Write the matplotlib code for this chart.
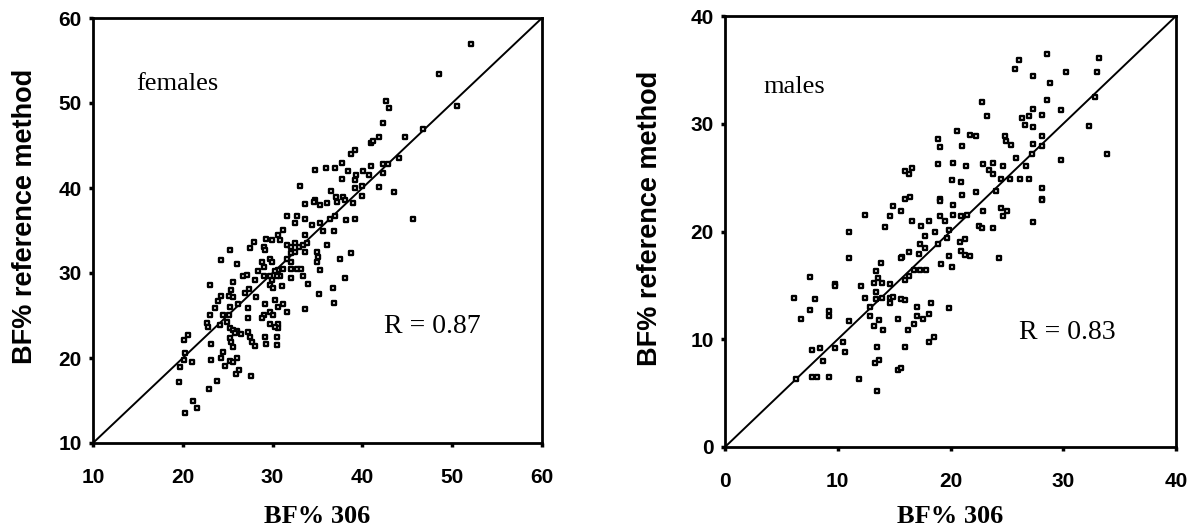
import matplotlib.pyplot as plt
import numpy as np

# females: BF% 306 (x) vs BF% reference method (y)
fem_x = [52.1, 48.5, 50.5, 42.6, 43.0, 42.3, 41.8, 41.0, 41.2, 44.7, 46.7, 44.1, 42.3, 42.8,
         42.3, 41.0, 40.7, 40.1, 39.2, 38.7, 37.7, 37.0, 35.9, 34.7, 38.4, 37.7, 39.3, 39.2,
         39.9, 39.2, 41.9, 43.5, 33.1, 36.5, 37.1, 37.8, 39.9, 34.7,
         33.6, 34.6, 35.3, 36.1, 37.2, 38.1, 39.0, 45.6, 31.6, 32.7, 33.6, 32.5, 34.4, 35.3,
         36.4, 37.0, 38.2, 39.2, 35.6, 36.8, 31.2, 30.6, 30.8, 29.9, 29.3, 33.6, 27.9, 29.0,
         29.2, 31.6, 32.0, 32.5, 32.9, 33.4, 33.8, 32.0, 32.5, 33.6, 34.9, 35.1, 36.1, 31.6,
         32.0, 25.3, 27.5, 24.3, 26.0, 28.8, 29.0, 29.7, 29.9, 31.2, 32.1, 32.7, 33.2, 34.9,
         37.5, 38.7, 35.3, 30.6, 30.3, 30.8, 30.5, 28.4, 28.0, 29.0, 26.7, 27.1, 25.6, 25.4,
         29.7, 29.9, 29.7, 30.1, 31.0, 32.0, 33.4, 33.9, 38.1, 36.7, 35.2, 36.8, 33.6, 23.0,
         23.9, 24.3, 25.2, 25.6, 26.9, 27.4, 28.2, 29.2, 30.3, 30.6, 31.2, 31.6, 23.6, 23.0,
         24.5, 25.3, 25.2, 26.2, 27.3, 29.7, 30.1, 29.0, 28.8, 27.3, 22.7, 22.8, 24.1, 24.9,
         29.7, 30.6, 30.6, 30.3, 25.3, 25.6, 26.0, 25.8, 26.5, 27.3, 27.5, 27.7, 28.0, 25.3,
         25.4, 25.6, 29.2, 29.3, 30.5, 30.5, 20.6, 20.1, 23.1, 20.2, 20.1, 19.7, 21.0, 23.1,
         24.5, 24.3, 24.7, 25.3, 25.6, 26.0, 26.3, 25.9, 27.6, 23.8, 22.9, 19.6, 21.1, 21.6,
         20.2]
fem_y = [57.0, 53.4, 49.6, 50.2, 49.4, 47.7, 46.0, 45.3, 45.5, 46.0, 46.9, 43.5, 42.8, 42.8,
         41.8, 42.6, 41.5, 42.0, 44.5, 44.0, 42.9, 42.4, 42.4, 42.1, 42.0, 41.1, 41.5, 40.9,
         40.2, 40.0, 40.1, 39.5, 40.2, 39.7, 38.9, 38.9, 39.1, 38.6,
         38.1, 38.4, 38.0, 38.2, 38.4, 38.6, 38.2, 36.4, 36.7, 36.7, 36.4, 35.9, 35.6, 35.9,
         36.4, 36.7, 36.2, 36.4, 35.0, 35.0, 35.1, 34.5, 33.9, 33.9, 34.0, 34.5, 33.7, 33.1,
         32.7, 33.3, 33.1, 33.5, 33.1, 33.3, 33.5, 32.3, 32.5, 32.5, 32.5, 31.9, 33.3, 31.7,
         31.3, 32.7, 32.9, 31.5, 31.1, 31.3, 30.7, 31.7, 31.3, 30.5, 30.5, 30.5, 30.5, 31.3,
         31.7, 32.3, 30.3, 30.4, 30.2, 29.6, 29.6, 30.2, 29.2, 29.6, 29.6, 29.8, 29.0, 28.0,
         29.6, 29.2, 28.6, 28.2, 28.5, 29.4, 29.6, 28.7, 29.4, 28.2, 27.5, 26.5, 25.8, 28.6,
         26.7, 27.3, 27.3, 27.2, 27.7, 28.1, 27.2, 26.4, 26.8, 26.0, 26.4, 25.4, 25.9, 25.1,
         25.1, 26.0, 25.1, 26.4, 25.9, 25.4, 25.1, 25.1, 24.7, 24.7, 24.1, 23.7, 23.9, 24.2,
         24.0, 24.0, 23.5, 23.7, 23.5, 23.3, 23.2, 22.9, 22.8, 23.1, 22.5, 21.9, 21.4, 22.3,
         21.9, 21.3, 22.5, 21.6, 22.5, 21.5, 22.7, 22.1, 21.6, 20.6, 19.8, 19.0, 19.5, 19.8,
         20.7, 20.0, 19.1, 19.6, 19.5, 20.0, 18.6, 18.1, 17.9, 17.3, 16.4, 17.2, 14.9, 14.1,
         13.5]

# males
mal_x = [28.6, 26.1, 25.7, 27.3, 28.8, 30.2, 33.2, 33.0, 32.8, 28.6, 27.3, 29.8, 26.3, 27.0,
         28.1, 26.6, 27.3, 32.3, 22.8, 23.2, 20.6, 21.7, 22.3, 18.9, 19.1, 21.0, 24.8, 24.9,
         25.4, 28.1, 27.3, 28.1, 27.2, 25.8, 29.8, 33.9, 18.9, 20.2, 21.4, 22.9, 23.8, 24.7,
         26.7, 23.4, 23.8, 16.0, 16.3, 16.6, 20.1, 20.9, 24.5, 25.3, 26.2, 27.0, 28.1, 21.0,
         22.3, 24.0, 16.0, 16.4, 19.1, 28.1,
         14.9, 15.6, 12.4, 14.6, 14.2, 11.0, 16.6, 17.4, 18.1, 19.1, 19.5, 20.2, 20.9, 21.5,
         19.1, 20.2, 22.9, 24.5, 25.0, 24.7, 22.5, 22.8, 23.8, 27.3, 28.1, 18.6, 19.9, 19.7,
         17.7, 17.3, 17.7, 18.9, 20.8, 21.3, 20.9, 21.3, 21.7, 19.9, 16.3, 17.2, 15.7, 15.6,
         19.2, 20.1, 24.3, 13.8, 11.0, 13.4, 13.6, 13.2, 13.9, 14.6, 16.8, 17.3, 17.8, 16.3,
         16.0, 7.5, 9.8, 9.8, 12.1, 12.4, 13.4, 13.9, 14.6, 14.9, 15.6, 16.0, 13.4, 6.1, 8.0,
         7.5, 6.7, 9.2, 9.2, 11.0, 12.9, 14.6, 12.9, 13.7, 13.2, 14.0, 15.3, 17.0, 17.0, 17.6,
         18.1, 18.3, 16.8, 16.2, 19.9, 18.5, 18.1, 16.0, 10.5, 10.6, 9.8, 8.4, 7.7, 8.7, 13.5,
         13.7, 13.3, 15.3, 15.6, 6.3, 7.7, 8.2, 9.2, 11.9, 13.5]
mal_y = [36.5, 35.9, 35.1, 34.4, 33.8, 34.8, 36.1, 34.8, 32.5, 32.2, 31.4, 31.3, 30.5, 30.7,
         30.8, 29.9, 29.7, 29.8, 32.0, 30.7, 29.3, 29.0, 28.9, 28.6, 27.8, 27.9, 28.9, 28.4,
         28.0, 28.9, 28.1, 27.9, 27.2, 26.8, 26.6, 27.2, 26.3, 26.4, 26.1, 26.3, 26.4, 26.1,
         26.1, 25.7, 25.3, 25.6, 25.3, 25.9, 24.8, 24.6, 24.9, 24.9, 24.9, 24.9, 24.0, 23.4,
         23.7, 23.8, 23.0, 23.2, 23.0, 23.0,
         22.4, 21.9, 21.5, 21.4, 20.4, 20.0, 21.0, 20.5, 21.0, 21.4, 21.0, 21.5, 21.4, 21.5,
         22.8, 22.5, 21.9, 22.2, 21.9, 21.4, 20.5, 20.3, 20.3, 20.9, 22.9, 20.0, 20.1, 19.4,
         19.6, 18.8, 18.5, 18.8, 19.0, 19.3, 18.2, 17.8, 17.7, 17.7, 18.1, 17.9, 17.6, 17.5,
         17.0, 16.7, 17.5, 17.1, 17.5, 16.3, 15.7, 15.2, 15.2, 15.1, 16.4, 16.4, 16.4, 15.9,
         15.5, 15.8, 15.1, 14.9, 14.9, 13.8, 13.7, 13.8, 13.8, 13.9, 13.7, 13.6, 14.4, 13.8,
         13.7, 12.7, 11.9, 12.6, 12.2, 11.7, 13.0, 13.4, 12.2, 11.8, 11.2, 10.9, 11.9, 13.0,
         12.2, 11.9, 12.3, 13.4, 11.4, 10.9, 12.9, 10.2, 9.7, 9.3, 9.7, 8.8, 9.2, 9.2, 9.0,
         8.0, 9.3, 8.1, 7.8, 7.1, 7.3, 6.3, 6.5, 6.5, 6.5, 6.3, 5.2]

fem_ticks = [10, 20, 30, 40, 50, 60]
mal_ticks = [0, 10, 20, 30, 40]

plt.rcParams['font.family'] = ['Liberation Sans', 'DejaVu Sans']

fig = plt.figure(figsize=(11.98, 5.31), dpi=100)
ax1 = fig.add_axes([93 / 1198, 1 - 443 / 531, 449 / 1198, 425 / 531])
ax2 = fig.add_axes([725 / 1198, 1 - 447 / 531, 451 / 1198, 431 / 531])


def draw(ax, x, y, ticks, label, rtext, lab_pos, r_pos, ylab_xy, xlab_y):
    lo, hi = ticks[0], ticks[-1]
    ax.plot([lo, hi], [lo, hi], color='black', lw=1.4, zorder=1)
    ax.scatter(x, y, marker='s', s=11, facecolor='white', edgecolor='black',
               linewidths=1.7, zorder=2)
    ax.set_xlim(lo, hi)
    ax.set_ylim(lo, hi)
    ax.set_xticks(ticks)
    ax.set_yticks(ticks)
    for s in ax.spines.values():
        s.set_linewidth(2)
    ax.tick_params(axis='both', direction='out', length=3, width=2.5,
                   labelsize=15)
    ax.tick_params(axis='x', pad=15)
    ax.tick_params(axis='y', pad=5)
    for t in ax.get_xticklabels() + ax.get_yticklabels():
        t.set_fontweight('bold')
    ax.set_ylabel('BF% reference method', fontsize=19.5, fontweight='bold')
    ax.set_xlabel('BF% 306', fontsize=19, fontweight='bold',
                  family='Liberation Serif')
    ax.yaxis.set_label_coords(*ylab_xy)
    ax.xaxis.set_label_coords(0.5, xlab_y)
    ax.text(lab_pos[0], lab_pos[1], label, fontsize=19, family='Liberation Serif',
            va='center', ha='left')
    ax.text(r_pos[0], r_pos[1], rtext, fontsize=20, family='Liberation Serif',
            va='center', ha='left')


draw(ax1, fem_x, fem_y, fem_ticks, 'females', 'R = 0.87', (14.8, 52.2), (42.4, 23.7),
     (-0.122, 0.533), -0.145)
draw(ax2, mal_x, mal_y, mal_ticks, 'males', 'R = 0.83', (3.4, 33.4), (26.1, 10.6),
     (-0.137, 0.531), -0.135)

fig.savefig('out.png', dpi=100)
